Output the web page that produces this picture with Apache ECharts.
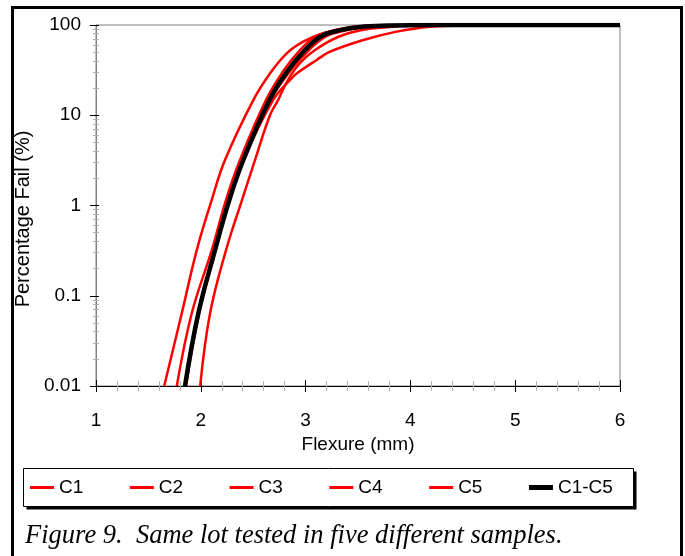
<!DOCTYPE html>
<html>
<head>
<meta charset="utf-8">
<script src="https://cdn.jsdelivr.net/npm/echarts@6/dist/echarts.min.js"></script>
<style>
  html, body { margin: 0; padding: 0; background: #fff; }
  #chart { width: 685px; height: 556px; }
</style>
</head>
<body>
<div id="chart"></div>
<script>
// [flexure mm, percentage fail]
const c1 = [[1.651,0.01],[1.818,0.0636],[1.961,0.318],[2.104,1.15],[2.231,3.19],[2.501,14.7],[2.660,29.0],[2.820,48.6],[2.978,65.3],[3.169,81.0],[3.392,92.0],[3.538,96.7],[3.758,99.0],[4.04,100],[6,100]];
const c2 = [[1.771,0.01],[1.913,0.0636],[2.104,0.318],[2.240,1.15],[2.374,3.19],[2.622,14.7],[2.794,31.7],[2.947,52.8],[3.090,74.0],[3.214,84.0],[3.366,92.0],[3.519,96.7],[3.758,99.0],[4.09,100],[6,100]];
const c3 = [[1.849,0.01],[1.976,0.0636],[2.135,0.318],[2.272,1.15],[2.406,3.19],[2.664,14.7],[2.861,31.7],[3.032,52.8],[3.185,74.0],[3.328,84.0],[3.490,92.0],[3.662,96.7],[3.900,99.0],[4.28,100],[6,100]];
const c4 = [[1.994,0.01],[2.088,0.0636],[2.240,0.318],[2.393,1.15],[2.517,3.19],[2.660,10],[2.737,14.7],[2.832,24.6],[2.947,37.9],[3.09,52.8],[3.309,73.6],[3.538,88.0],[3.805,95.0],[4.09,98.5],[4.47,100],[6,100]];
const c5 = [[1.859,0.01],[1.983,0.0636],[2.140,0.318],[2.274,1.15],[2.407,3.19],[2.689,14.7],[2.851,24.6],[2.915,29.0],[3.106,41.0],[3.233,50.6],[3.551,68.2],[3.869,84.4],[4.187,95.7],[4.569,99.2],[5.05,100],[6,100]];
const cAll = [[1.849,0.01],[1.976,0.0636],[2.135,0.318],[2.272,1.15],[2.406,3.19],[2.654,14.7],[2.835,31.7],[2.994,52.8],[3.137,74.0],[3.261,84.0],[3.424,92.0],[3.567,96.2],[3.805,98.7],[4.19,100],[6,100]];

const seriesNames = ['C1', 'C2', 'C3', 'C4', 'C5', 'C1-C5'];
const seriesData = [c1, c2, c3, c4, c5, cAll];
const minorY = [2,3,4,5,6,7,8,9].flatMap(m => [0.01, 0.1, 1, 10].map(d => +(m * d).toPrecision(3)));
const majorY = [0.01, 0.1, 1, 10, 100];

const FONT = 'Liberation Sans, Arial, sans-serif';
// thin bar for the red legend keys; the tiny corner specks keep the full icon box
const THIN_ICON = 'path://M0,0L0.01,0L0,0.01Z M0,1L24,1L24,4L0,4Z M24,5L23.99,5L24,4.99Z';

const chart = echarts.init(document.getElementById('chart'));

// extra log axes that only draw ticks, so ticks cross the axis line
function tickAxis(values, inside, len, color) {
    return {
        type: 'log', logBase: 10, min: 0.01, max: 100, position: 'left',
        axisLine: {show: false}, axisLabel: {show: false}, splitLine: {show: false},
        axisTick: {show: true, inside: inside, length: len, customValues: values,
            lineStyle: {color: color, width: 1}}
    };
}

chart.setOption({
    animation: false,
    grid: {left: 96, right: 65, top: 25, bottom: 170, show: true,
        borderColor: '#808080', borderWidth: 1, backgroundColor: 'transparent'},
    legend: {
        left: 25, top: 473, itemWidth: 24, itemHeight: 5, itemGap: 46.5,
        data: seriesNames.map(n => ({name: n, icon: n === 'C1-C5' ? 'rect' : THIN_ICON})),
        textStyle: {fontFamily: FONT, fontSize: 19, color: '#000'}
    },
    xAxis: [{
        type: 'value', min: 1, max: 6, interval: 1,
        name: 'Flexure (mm)', nameLocation: 'middle', nameGap: 47,
        nameTextStyle: {fontFamily: FONT, fontSize: 19, color: '#000'},
        axisLine: {lineStyle: {color: '#000', width: 1}},
        axisTick: {length: 6, lineStyle: {color: '#000'}},
        minorTick: {show: true, splitNumber: 5, length: 5, lineStyle: {color: '#b0b0b0'}},
        axisLabel: {margin: 25, fontFamily: FONT, fontSize: 19, color: '#000'},
        splitLine: {show: false}
    }, {
        type: 'value', min: 1, max: 6, interval: 1, position: 'bottom',
        axisLine: {show: false}, axisLabel: {show: false}, splitLine: {show: false},
        axisTick: {inside: true, length: 6, lineStyle: {color: '#000'}},
        minorTick: {show: true, splitNumber: 5, length: 5, lineStyle: {color: '#b0b0b0'}}
    }],
    yAxis: [{
        type: 'log', logBase: 10, min: 0.01, max: 100,
        axisLine: {show: true, lineStyle: {color: '#808080', width: 1}},
        axisTick: {show: true, length: 6, lineStyle: {color: '#000'}},
        axisLabel: {margin: 15, fontFamily: FONT, fontSize: 19, color: '#000',
            formatter: v => String(+v.toPrecision(6))},
        splitLine: {show: false}
    },
        tickAxis(majorY, true, 3, '#000'),
        tickAxis(minorY, false, 3, '#b0b0b0'),
        tickAxis(minorY, true, 3, '#b0b0b0')
    ],
    graphic: [
        {type: 'rect', silent: true, z: -10,
            shape: {x: 12.5, y: 7.5, width: 669, height: 600},
            style: {fill: 'none', stroke: '#000', lineWidth: 3}},
        {type: 'rect', silent: true, z: -10,
            shape: {x: 26.5, y: 471.5, width: 610, height: 38},
            style: {fill: '#000'}},
        {type: 'rect', silent: true, z: -9,
            shape: {x: 23.5, y: 468.5, width: 610, height: 38},
            style: {fill: '#fff', stroke: '#000', lineWidth: 1}},
        {type: 'text', silent: true, x: 23, y: 219, rotation: Math.PI / 2,
            style: {text: 'Percentage Fail (%)', fontFamily: FONT, fontSize: 20,
                fill: '#000', align: 'center', verticalAlign: 'middle'}},
        {type: 'text', silent: true, x: 25, y: 536,
            style: {text: 'Figure 9.  Same lot tested in five different samples.',
                fontFamily: 'Liberation Serif, Times New Roman, serif', fontStyle: 'italic',
                fontSize: 26.5, fill: '#000', align: 'left', verticalAlign: 'middle'}}
    ],
    series: seriesNames.map((name, i) => ({
        name: name,
        type: 'line',
        data: seriesData[i],
        smooth: 0.4,
        symbol: 'none',
        showSymbol: false,
        z: i === 5 ? 3 : 2,
        lineStyle: {color: i === 5 ? '#000' : '#ff0000', width: i === 5 ? 4.5 : 2.5},
        itemStyle: {color: i === 5 ? '#000' : '#ff0000'}
    }))
});
</script>
</body>
</html>
